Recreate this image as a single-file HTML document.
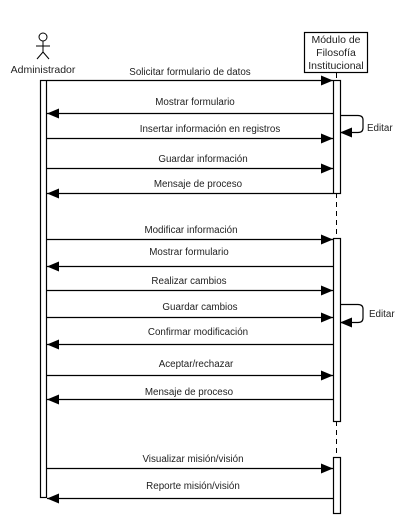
<!DOCTYPE html>
<html><head><meta charset="utf-8"><style>
html,body{margin:0;padding:0;background:#fff;}
svg text{font-family:"Liberation Sans",sans-serif;fill:#222;}
</style></head><body>
<svg width="415" height="521" viewBox="0 0 415 521" xmlns="http://www.w3.org/2000/svg">
<defs><marker id="a" markerWidth="12" markerHeight="10" refX="12" refY="5" orient="auto" markerUnits="userSpaceOnUse"><path d="M0,0 L12,5 L0,10 z" fill="#000"/></marker></defs>
<g stroke="#000" fill="none" stroke-width="1">
<circle cx="43" cy="37" r="4" fill="#fff"/>
<line x1="43" y1="41" x2="43" y2="52"/>
<line x1="36" y1="46" x2="50" y2="46"/>
<line x1="43" y1="52" x2="37" y2="59"/>
<line x1="43" y1="52" x2="49" y2="59"/>
</g>
<text x="43" y="73" font-size="10.5" text-anchor="middle">Administrador</text>
<rect x="304.5" y="32.5" width="63" height="40" fill="#fff" stroke="#000" stroke-width="1.2"/>
<text x="336" y="43" font-size="10.5" text-anchor="middle">Módulo de</text>
<text x="336" y="56" font-size="10.5" text-anchor="middle">Filosofía</text>
<text x="336" y="69" font-size="10.5" text-anchor="middle">Institucional</text>
<g stroke="#000" stroke-dasharray="5,4">
<line x1="336.5" y1="73" x2="336.5" y2="80"/>
<line x1="336.5" y1="193" x2="336.5" y2="238"/>
<line x1="336.5" y1="421" x2="336.5" y2="457"/>
</g>
<g fill="#fff" stroke="#000" stroke-width="1.2">
<rect x="40.5" y="80.5" width="6" height="417"/>
<rect x="333.5" y="80.5" width="7" height="113"/>
<rect x="333.5" y="238.5" width="7" height="183"/>
<rect x="333.5" y="457.5" width="7" height="56"/>
</g>
<g stroke="#000" stroke-width="1.2" fill="none">
<line x1="47" y1="80.5" x2="333" y2="80.5" marker-end="url(#a)"/>
<line x1="333" y1="113.5" x2="47" y2="113.5" marker-end="url(#a)"/>
<line x1="47" y1="138.5" x2="333" y2="138.5" marker-end="url(#a)"/>
<line x1="47" y1="168.5" x2="333" y2="168.5" marker-end="url(#a)"/>
<line x1="333" y1="193.5" x2="47" y2="193.5" marker-end="url(#a)"/>
<line x1="47" y1="239.5" x2="333" y2="239.5" marker-end="url(#a)"/>
<line x1="333" y1="266.5" x2="47" y2="266.5" marker-end="url(#a)"/>
<line x1="47" y1="290.5" x2="333" y2="290.5" marker-end="url(#a)"/>
<line x1="47" y1="317.5" x2="333" y2="317.5" marker-end="url(#a)"/>
<line x1="333" y1="344.5" x2="47" y2="344.5" marker-end="url(#a)"/>
<line x1="47" y1="375.5" x2="333" y2="375.5" marker-end="url(#a)"/>
<line x1="333" y1="399.5" x2="47" y2="399.5" marker-end="url(#a)"/>
<line x1="47" y1="468.5" x2="333" y2="468.5" marker-end="url(#a)"/>
<line x1="333" y1="498.5" x2="47" y2="498.5" marker-end="url(#a)"/>
<path d="M340,115.5 H358 Q363,115.5 363,120 V128 Q363,132.5 358,132.5 H340" marker-end="url(#a)"/>
<path d="M340,304.5 H358 Q363,304.5 363,309 V318 Q363,322.5 358,322.5 H340" marker-end="url(#a)"/>
</g>
<g font-size="9.8" text-anchor="middle">
<text x="190" y="75">Solicitar formulario de datos</text>
<text x="195" y="105">Mostrar formulario</text>
<text x="210" y="132">Insertar información en registros</text>
<text x="203" y="162">Guardar información</text>
<text x="198" y="187">Mensaje de proceso</text>
<text x="191" y="233">Modificar información</text>
<text x="189" y="255">Mostrar formulario</text>
<text x="189" y="284">Realizar cambios</text>
<text x="200" y="310">Guardar cambios</text>
<text x="198" y="335">Confirmar modificación</text>
<text x="196" y="367">Aceptar/rechazar</text>
<text x="189" y="395">Mensaje de proceso</text>
<text x="193" y="462">Visualizar misión/visión</text>
<text x="193" y="489">Reporte misión/visión</text>
</g>
<text x="367" y="131" font-size="9.8">Editar</text>
<text x="369" y="317" font-size="9.8">Editar</text>
</svg>
</body></html>
